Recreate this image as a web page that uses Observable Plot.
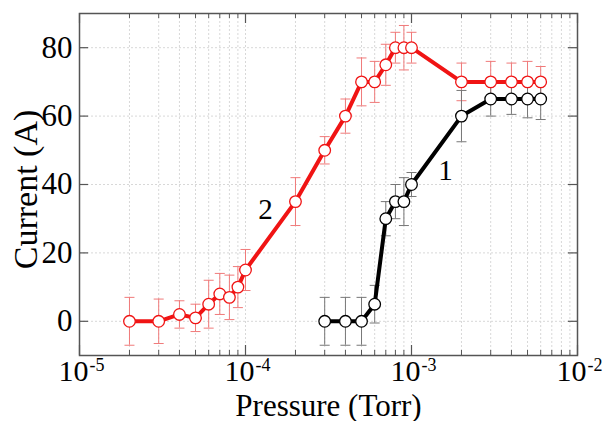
<!DOCTYPE html>
<html><head><meta charset="utf-8">
<script src="https://cdn.jsdelivr.net/npm/d3@7"></script>
<script src="https://cdn.jsdelivr.net/npm/@observablehq/plot@0.6"></script>
<style>html,body{margin:0;padding:0;background:#fff;}</style>
</head><body><div id="chart"></div>
<script>
// Series 2 (red)
const pressure2 = [2e-5,3e-5,4e-5,5e-5,6e-5,7e-5,8e-5,9e-5,1e-4,2e-4,3e-4,4e-4,5e-4,6e-4,7e-4,8e-4,9e-4,1e-3,2e-3,3e-3,4e-3,5e-3,6e-3];
const current2  = [0,0,2,1,5,8,7,10,15,35,50,60,70,70,75,80,80,80,70,70,70,70,70];
const error2    = [7,6.5,4,4,7,6,6.5,6,6,7,4,5,7,6,6,4.5,6.5,4.5,5.5,6,5.5,6,4.5];
// Series 1 (black)
const pressure1 = [3e-4,4e-4,5e-4,6e-4,7e-4,8e-4,9e-4,1e-3,2e-3,3e-3,4e-3,5e-3,6e-3];
const current1  = [0,0,0,5,30,35,35,40,60,65,65,65,65];
const error1    = [7,7,7,5.5,5,5,7,3.5,7.5,5,4.5,5.5,6];
// Series labels
const seriesLabels = [{text:"2", x:1.32e-4, y:32.5},{text:"1", x:1.6e-3, y:44}];
// Axes
const xMajor = [1e-5,1e-4,1e-3,1e-2];
const xExponents = ["-5","-4","-3","-2"];
const xMinor = [2e-5,3e-5,4e-5,5e-5,6e-5,7e-5,8e-5,9e-5,2e-4,3e-4,4e-4,5e-4,6e-4,7e-4,8e-4,9e-4,2e-3,3e-3,4e-3,5e-3,6e-3,7e-3,8e-3,9e-3];
const yTicks = [0,20,40,60,80];
const xTitle = "Pressure (Torr)";
const yTitle = "Current (A)";

const W=603,H=421,mL=79,mR=26,mT=13,mB=66;
const pw=W-mL-mR, ph=H-mT-mB;
const s2 = pressure2.map((x,i)=>({x, y:current2[i], lo:current2[i]-error2[i], hi:current2[i]+error2[i]}));
const s1 = pressure1.map((x,i)=>({x, y:current1[i], lo:current1[i]-error1[i], hi:current1[i]+error1[i]}));
const cap = {draw(ctx,size){const w=Math.sqrt(size/Math.PI); ctx.moveTo(-w,0); ctx.lineTo(w,0);}};
const RED="#f01414", RED_ERR="#f07a7a", BLK="#000", BLK_ERR="#777", AX="#555", GRID="#d8d8d8";
const serif = "'Liberation Serif','DejaVu Serif',serif";

function errMarks(data, color){
  return [
    Plot.ruleX(data,{x:"x",y1:"lo",y2:"hi",stroke:color,strokeWidth:1}),
    Plot.dot(data,{x:"x",y:"lo",symbol:cap,r:5,stroke:color,strokeWidth:1,fill:"none"}),
    Plot.dot(data,{x:"x",y:"hi",symbol:cap,r:5,stroke:color,strokeWidth:1,fill:"none"})
  ];
}

const chart = Plot.plot({
  width:W, height:H, marginLeft:mL, marginRight:mR, marginTop:mT, marginBottom:mB,
  style:{fontFamily:serif, background:"#fff", color:"#000"},
  x:{type:"log", domain:[1e-5,1e-2], axis:null},
  y:{domain:[-10,90]},
  marks:[
    Plot.gridX(xMinor.concat(xMajor),{x:d=>d,stroke:GRID,strokeOpacity:1,strokeDasharray:"2,2"}),
    Plot.gridY(yTicks,{y:d=>d,stroke:GRID,strokeOpacity:1,strokeDasharray:"2,2"}),
    ...errMarks(s2, RED_ERR),
    ...errMarks(s1, BLK_ERR),
    Plot.line(s2,{x:"x",y:"y",stroke:RED,strokeWidth:4}),
    Plot.line(s1,{x:"x",y:"y",stroke:BLK,strokeWidth:4}),
    Plot.dot(s2,{x:"x",y:"y",r:5.8,fill:"#fff",stroke:RED,strokeWidth:1.3}),
    Plot.dot(s1,{x:"x",y:"y",r:5.8,fill:"#fff",stroke:BLK,strokeWidth:1.3}),
    Plot.frame({stroke:AX,strokeWidth:1.5}),
    // inward ticks
    Plot.tickX(xMajor,{x:d=>d,insetTop:ph-10,stroke:AX,strokeWidth:1.2}),
    Plot.tickX(xMajor,{x:d=>d,insetBottom:ph-10,stroke:AX,strokeWidth:1.2}),
    Plot.tickX(xMinor,{x:d=>d,insetTop:ph-5,stroke:AX,strokeWidth:1}),
    Plot.tickX(xMinor,{x:d=>d,insetBottom:ph-5,stroke:AX,strokeWidth:1}),
    Plot.tickY(yTicks,{y:d=>d,insetRight:pw-9,stroke:AX,strokeWidth:1.2}),
    Plot.tickY(yTicks,{y:d=>d,insetLeft:pw-9,stroke:AX,strokeWidth:1.2}),
    // y tick labels
    Plot.axisY(yTicks,{tickSize:0,tickPadding:7,fontSize:31,label:null}),
    // x tick labels: 10 with superscript exponent
    Plot.text(xMajor,{x:d=>d,text:()=>"10",frameAnchor:"bottom",textAnchor:"end",lineAnchor:"bottom",dx:9,dy:25,fontSize:30,fill:"#000"}),
    Plot.text(xMajor,{x:d=>d,text:(d,i)=>xExponents[i],frameAnchor:"bottom",textAnchor:"start",lineAnchor:"bottom",dx:10,dy:15,fontSize:18,fill:"#000"}),
    // axis titles
    Plot.text([xTitle],{text:d=>d,frameAnchor:"bottom",textAnchor:"middle",lineAnchor:"bottom",dy:60,fontSize:31,fill:"#000"}),
    Plot.text([yTitle],{text:d=>d,frameAnchor:"left",textAnchor:"middle",rotate:-90,lineAnchor:"middle",dx:-53,dy:5,fontSize:34,fill:"#000"}),
    // series labels
    Plot.text(seriesLabels,{x:"x",y:"y",text:"text",fontSize:29,fill:"#000"})
  ]
});
document.getElementById("chart").appendChild(chart);
</script>
</body></html>
